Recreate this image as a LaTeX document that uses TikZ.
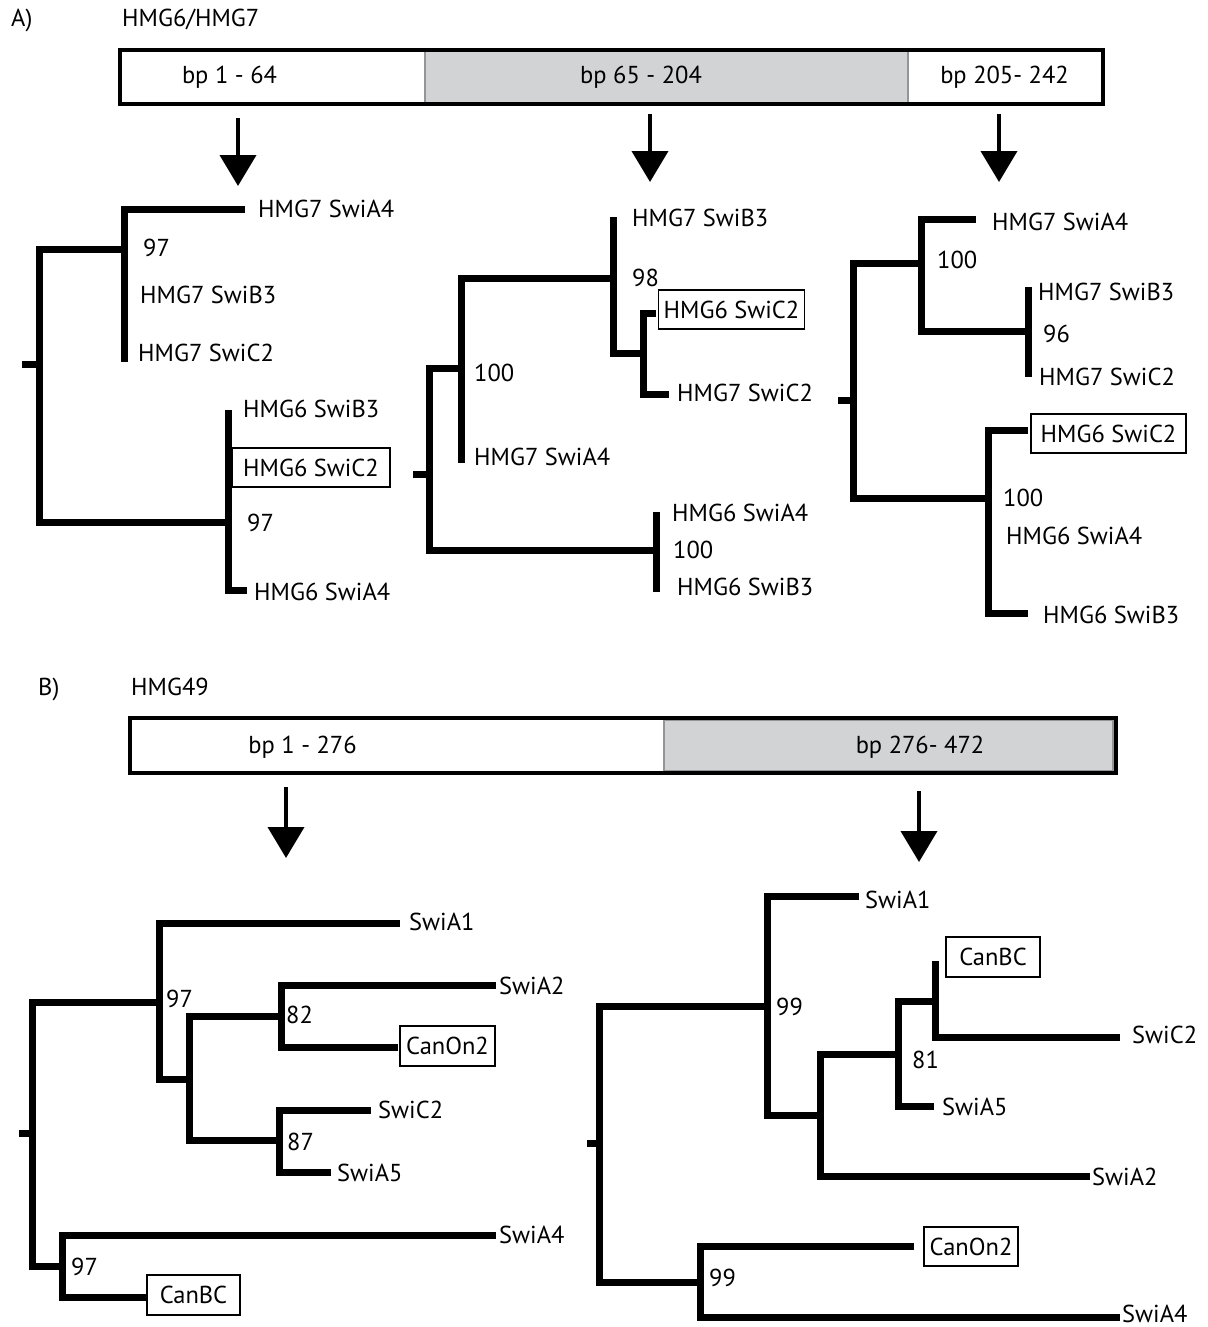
\documentclass[tikz,border=0pt]{standalone}
\usepackage{fontspec}
\setmainfont{PT Sans}
\usetikzlibrary{arrows.meta}
\definecolor{barfill}{HTML}{D1D3D4}
\definecolor{barline}{HTML}{939598}
\tikzset{
  branch/.style={line width=7pt, line join=miter},
  lbl/.style={font=\fontsize{24.5}{28}\selectfont, inner sep=0pt, anchor=west, text height=17pt, text depth=0pt},
  clbl/.style={lbl, anchor=center},
  boxlbl/.style={font=\fontsize{24.5}{28}\selectfont, draw, line width=1.5pt, inner sep=0pt, text height=17pt, text depth=0pt, minimum height=39pt},
  downarrow/.style={line width=4pt, -{Triangle[width=36pt,length=31pt]}},
  outerbar/.style={line width=4pt},
}
\begin{document}
\begin{tikzpicture}[x=1pt,y=-1pt]
\useasboundingbox (0,0) rectangle (1207,1327);

% ---------------- Part A ----------------
\node[lbl] (tA) at (11,18) {A)};
\node[lbl] (tAname) at (122,18) {HMG6/HMG7};

\fill[barfill] (425,50) rectangle (908,104);
\draw[barline, line width=2pt] (425,50) -- (425,104) (908,50) -- (908,104);
\draw[outerbar] (119.5,50) rectangle (1103,104);
\node[clbl] (segA1) at (229.5,75) {bp 1 - 64};
\node[clbl] (segA2) at (641,75) {bp 65 - 204};
\node[clbl] (segA3) at (1004.5,75) {bp 205- 242};

\coordinate (arA1s) at (238,118); \coordinate (arA1e) at (238,186);
\coordinate (arA2s) at (650,114); \coordinate (arA2e) at (650,182);
\coordinate (arA3s) at (999,114); \coordinate (arA3e) at (999,182);
\draw[downarrow] (arA1s) -- (arA1e);
\draw[downarrow] (arA2s) -- (arA2e);
\draw[downarrow] (arA3s) -- (arA3e);

% Tree A1
\draw[branch] (22,364) -- (39,364);
\draw[branch] (124,249) -- (39,249) -- (39,522) -- (228,522);
\draw[branch] (245,209) -- (124,209) -- (124,362);
\draw[branch] (228,410) -- (228,590) -- (247,590);
\node[lbl] (a1l1) at (258,209) {HMG7 SwiA4};
\node[lbl] (a1b1) at (143,248) {97};
\node[lbl] (a1l2) at (140,295) {HMG7 SwiB3};
\node[lbl] (a1l3) at (138,353) {HMG7 SwiC2};
\node[lbl] (a1l4) at (243,409) {HMG6 SwiB3};
\node[boxlbl, minimum width=158pt] (a1l5) at (311,467.5) {HMG6 SwiC2};
\node[lbl] (a1b2) at (247,523) {97};
\node[lbl] (a1l6) at (254,592) {HMG6 SwiA4};

% Tree A2
\draw[branch] (413,474) -- (429,474);
\draw[branch] (461,368) -- (429,368) -- (429,550) -- (656,550);
\draw[branch] (613,278) -- (461,278) -- (461,463);
\draw[branch] (613,217) -- (613,353) -- (643,353);
\draw[branch] (656,313) -- (643,313) -- (643,394) -- (669,394);
\draw[branch] (656,512) -- (656,592);
\node[lbl] (a2l1) at (632,218) {HMG7 SwiB3};
\node[lbl] (a2b1) at (632,278) {98};
\node[boxlbl, minimum width=146pt] (a2l2) at (731.5,309.5) {HMG6 SwiC2};
\node[lbl] (a2l3) at (677,393) {HMG7 SwiC2};
\node[lbl] (a2b2) at (474,373) {100};
\node[lbl] (a2l4) at (474,457) {HMG7 SwiA4};
\node[lbl] (a2l5) at (672,513) {HMG6 SwiA4};
\node[lbl] (a2b3) at (673,550) {100};
\node[lbl] (a2l6) at (677,587) {HMG6 SwiB3};

% Tree A3
\draw[branch] (838,400) -- (853,400);
\draw[branch] (921,263) -- (853,263) -- (853,498) -- (988,498);
\draw[branch] (976,219) -- (921,219) -- (921,331) -- (1028,331);
\draw[branch] (1028,287) -- (1028,377);
\draw[branch] (1028,430) -- (988,430) -- (988,613) -- (1028,613);
\node[lbl] (a3l1) at (992,222) {HMG7 SwiA4};
\node[lbl] (a3b1) at (937,260) {100};
\node[lbl] (a3l2) at (1038,292) {HMG7 SwiB3};
\node[lbl] (a3b2) at (1043,334) {96};
\node[lbl] (a3l3) at (1039,377) {HMG7 SwiC2};
\node[boxlbl, minimum width=155pt] (a3l4) at (1108.5,433.5) {HMG6 SwiC2};
\node[lbl] (a3b3) at (1003,498) {100};
\node[lbl] (a3l5) at (1006,536) {HMG6 SwiA4};
\node[lbl] (a3l6) at (1043,615) {HMG6 SwiB3};

% ---------------- Part B ----------------
\node[lbl] (tB) at (38,687) {B)};
\node[lbl] (tBname) at (131,687) {HMG49};

\filldraw[fill=barfill, draw=barline, line width=2pt] (664,720) rectangle (1113,771);
\draw[outerbar] (130,718) rectangle (1115.5,773);
\node[clbl] (segB1) at (302.5,745) {bp 1 - 276};
\node[clbl] (segB2) at (920,745) {bp 276- 472};

\coordinate (arB1s) at (286,787); \coordinate (arB1e) at (286,858);
\coordinate (arB2s) at (919,791); \coordinate (arB2e) at (919,862);
\draw[downarrow] (arB1s) -- (arB1e);
\draw[downarrow] (arB2s) -- (arB2e);

% Tree B1
\draw[branch] (19,1133) -- (32,1133);
\draw[branch] (159,1002) -- (32,1002) -- (32,1266) -- (62,1266);
\draw[branch] (400,923) -- (159,923) -- (159,1079) -- (189,1079);
\draw[branch] (281,1016) -- (189,1016) -- (189,1140) -- (279,1140);
\draw[branch] (496,985) -- (281,985) -- (281,1047) -- (398,1047);
\draw[branch] (371,1110) -- (279,1110) -- (279,1172) -- (331,1172);
\draw[branch] (496,1235) -- (62,1235) -- (62,1297) -- (147,1297);
\node[lbl] (b1l1) at (409,922) {SwiA1};
\node[lbl] (b1b1) at (166,999) {97};
\node[lbl] (b1l2) at (499,986) {SwiA2};
\node[lbl] (b1b2) at (286,1015) {82};
\node[boxlbl, minimum width=95pt, minimum height=40pt] (b1l3) at (447.5,1046) {CanOn2};
\node[lbl] (b1l4) at (378,1110) {SwiC2};
\node[lbl] (b1b3) at (287,1142) {87};
\node[lbl] (b1l5) at (337,1173) {SwiA5};
\node[lbl] (b1l6) at (499,1235) {SwiA4};
\node[lbl] (b1b4) at (71,1267) {97};
\node[boxlbl, minimum width=93pt, minimum height=40pt] (b1l7) at (193.5,1295) {CanBC};

% Tree B2
\draw[branch] (587,1143) -- (599,1143);
\draw[branch] (767,1006) -- (599,1006) -- (599,1282) -- (700,1282);
\draw[branch] (859,896) -- (767,896) -- (767,1115) -- (820,1115);
\draw[branch] (898,1054) -- (820,1054) -- (820,1176) -- (1090,1176);
\draw[branch] (935,1001) -- (898,1001) -- (898,1106) -- (934,1106);
\draw[branch] (939,964) -- (935,964) -- (935,1037) -- (1120,1037);
\draw[branch] (914,1246) -- (700,1246) -- (700,1317) -- (1120,1317);
\node[lbl] (b2l1) at (865,900) {SwiA1};
\node[lbl] (b2b1) at (776,1007) {99};
\node[boxlbl, minimum width=94pt, minimum height=40pt] (b2l2) at (993,957) {CanBC};
\node[lbl] (b2l3) at (1132,1035) {SwiC2};
\node[lbl] (b2b2) at (912,1060) {81};
\node[lbl] (b2l4) at (942,1107) {SwiA5};
\node[lbl] (b2l5) at (1092,1177) {SwiA2};
\node[boxlbl, minimum width=94pt] (b2l6) at (971,1246.5) {CanOn2};
\node[lbl] (b2b3) at (709,1278) {99};
\node[lbl] (b2l7) at (1122,1314) {SwiA4};
\end{tikzpicture}
\end{document}
